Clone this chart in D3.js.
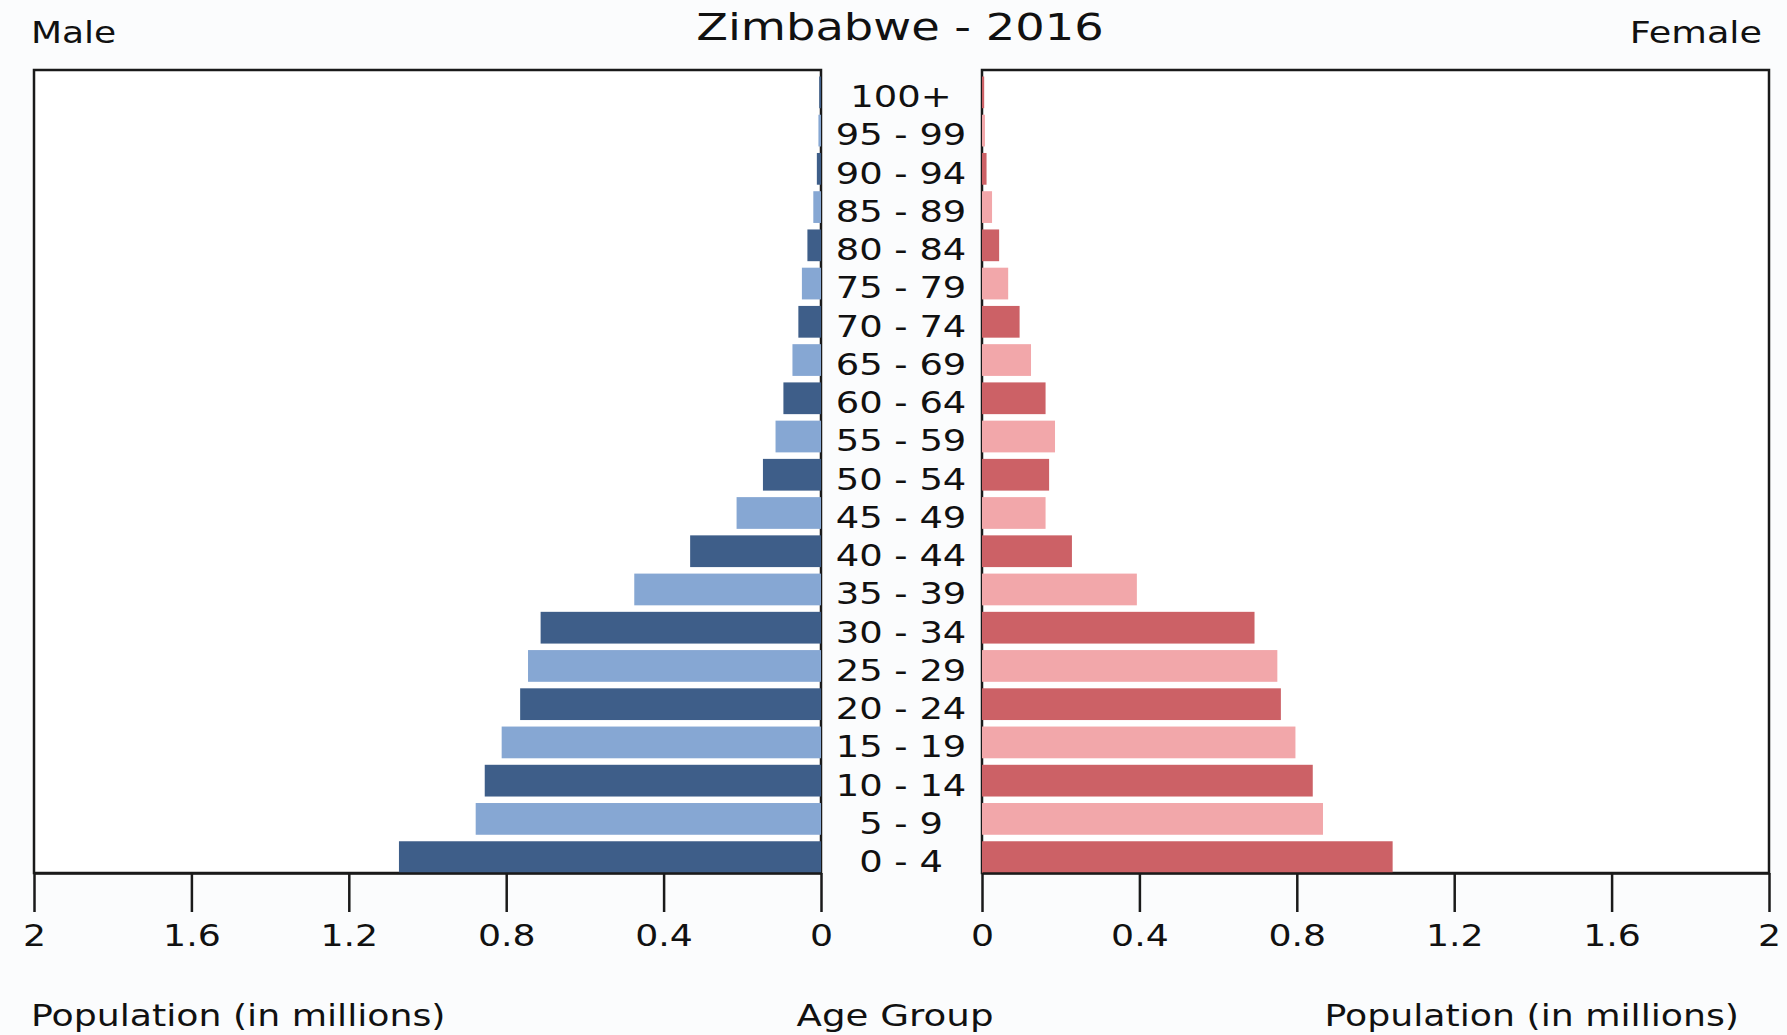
<!DOCTYPE html>
<html>
<head>
<meta charset="utf-8">
<script src="https://cdnjs.cloudflare.com/ajax/libs/d3/7.8.5/d3.min.js"></script>
<style>
  body { margin: 0; background: #fbfcfd; }
  text { font-family: "DejaVu Sans", sans-serif; fill: #111; }
</style>
</head>
<body>
<div id="chart"></div>
<script>
// Zimbabwe population pyramid, 2016 (values in millions)

let ageGroups = ["100+", "95 - 99", "90 - 94", "85 - 89", "80 - 84", "75 - 79", "70 - 74",
                 "65 - 69", "60 - 64", "55 - 59", "50 - 54", "45 - 49", "40 - 44", "35 - 39",
                 "30 - 34", "25 - 29", "20 - 24", "15 - 19", "10 - 14", "5 - 9", "0 - 4"];

let maleValues = [0.002, 0.004, 0.008, 0.017, 0.032, 0.046, 0.055,
                  0.070, 0.093, 0.113, 0.145, 0.212, 0.330, 0.472,
                  0.710, 0.742, 0.762, 0.809, 0.852, 0.875, 1.070];

let femaleValues = [0.003, 0.005, 0.009, 0.023, 0.041, 0.064, 0.093,
                    0.122, 0.159, 0.183, 0.168, 0.159, 0.226, 0.391,
                    0.690, 0.748, 0.757, 0.794, 0.838, 0.864, 1.041];

let tickValues = [0, 0.4, 0.8, 1.2, 1.6, 2];

let width = 1787, height = 1035;
let plotTop = 70, plotBottom = 873;
let leftBox = {x0: 34, x1: 821};
let rightBox = {x0: 982, x1: 1769};
let stretch = 1.17;

let colors = {
  maleDark: "#3e5e89", maleLight: "#86a7d3",
  femaleDark: "#cc6166", femaleLight: "#f2a7aa"
};

let svg = d3.select("#chart").append("svg")
            .attr("width", width)
            .attr("height", height);

let y = d3.scaleBand()
          .domain(ageGroups)
          .range([plotTop, plotBottom])
          .paddingInner(0.17)
          .paddingOuter(0.085)
          .align(1);

let xMale = d3.scaleLinear().domain([0, 2]).range([leftBox.x1, leftBox.x0]);
let xFemale = d3.scaleLinear().domain([0, 2]).range([rightBox.x0, rightBox.x1]);

// stretched text helper, the source picture is a bit wider than tall
function label(x, yPos, txt, size, anchor, sx) {
  return svg.append("text")
            .attr("transform", "translate(" + x + "," + yPos + ") scale(" + (sx || stretch) + ",1)")
            .attr("text-anchor", anchor)
            .style("font-size", size + "px")
            .text(txt);
}

// plot boxes
[leftBox, rightBox].forEach(function(b) {
  svg.append("rect")
     .attr("x", b.x0)
     .attr("y", plotTop)
     .attr("width", b.x1 - b.x0)
     .attr("height", plotBottom - plotTop)
     .attr("fill", "#ffffff")
     .attr("stroke", "#1a1a1a")
     .attr("stroke-width", 2.5);
});

let n = ageGroups.length;
function isDark(i) { return (n - 1 - i) % 2 === 0; }

svg.selectAll(".male")
   .data(maleValues)
   .enter().append("rect")
   .attr("class", "male")
   .attr("x", function(d) { return xMale(d) - 1; })
   .attr("y", function(d, i) { return y(ageGroups[i]); })
   .attr("width", function(d) { return xMale(0) - xMale(d) + 1; })
   .attr("height", y.bandwidth())
   .attr("fill", function(d, i) { return isDark(i) ? colors.maleDark : colors.maleLight; });

svg.selectAll(".female")
   .data(femaleValues)
   .enter().append("rect")
   .attr("class", "female")
   .attr("x", xFemale(0))
   .attr("y", function(d, i) { return y(ageGroups[i]); })
   .attr("width", function(d) { return xFemale(d) - xFemale(0) + 1; })
   .attr("height", y.bandwidth())
   .attr("fill", function(d, i) { return isDark(i) ? colors.femaleDark : colors.femaleLight; });

// axes
function drawAxis(scale) {
  let g = svg.append("g")
             .attr("transform", "translate(0," + plotBottom + ")")
             .call(d3.axisBottom(scale)
                     .tickValues(tickValues)
                     .tickFormat(d3.format("~g"))
                     .tickSize(39)
                     .tickSizeOuter(0)
                     .tickPadding(12));
  g.select(".domain").attr("stroke", "#1a1a1a").attr("stroke-width", 2.5);
  g.selectAll(".tick line").attr("stroke", "#1a1a1a").attr("stroke-width", 2.5);
  g.selectAll(".tick text")
   .attr("fill", "#111")
   .attr("transform", "scale(" + stretch + ",1)")
   .style("font-size", "31px")
   .style("font-family", "DejaVu Sans, sans-serif");
}
drawAxis(xMale);
drawAxis(xFemale);

// age group labels
ageGroups.forEach(function(a) {
  label(901, y(a) + y.bandwidth() - 1, a, 31, "middle", 1.19);
});

// titles
label(900, 40, "Zimbabwe - 2016", 38, "middle", 1.22);
label(31, 43, "Male", 30, "start", 1.2);
label(1762, 43, "Female", 30, "end", 1.22);
label(31, 1026, "Population (in millions)", 31, "start");
label(895, 1026, "Age Group", 31, "middle", 1.2);
label(1739, 1026, "Population (in millions)", 31, "end");
</script>
</body>
</html>
